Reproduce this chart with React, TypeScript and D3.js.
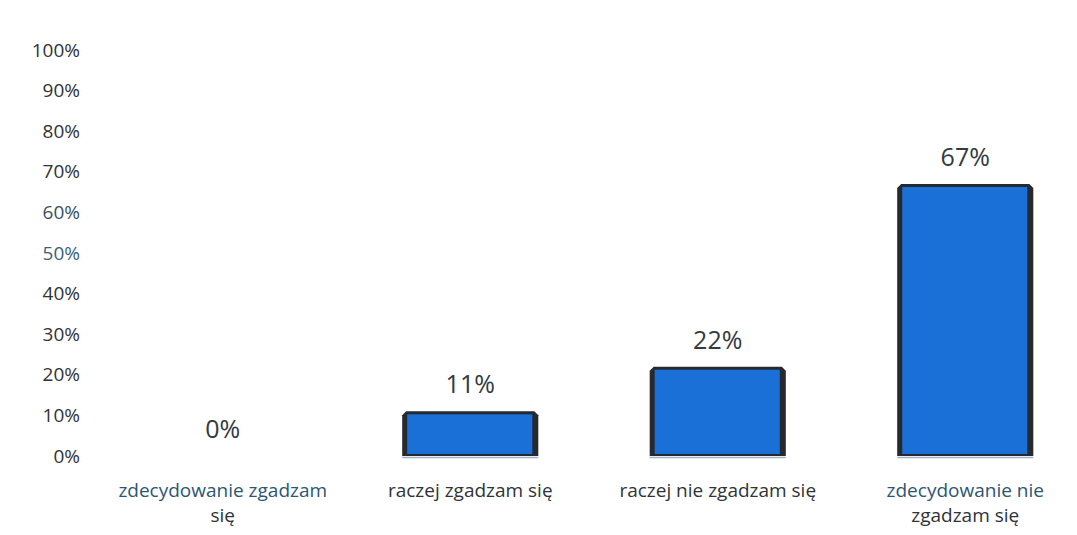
import React from "react";
import * as d3 from "d3";

const categories: string[][] = [
  ["zdecydowanie zgadzam", "się"],
  ["raczej zgadzam się"],
  ["raczej nie zgadzam się"],
  ["zdecydowanie nie", "zgadzam się"],
];
const values: number[] = [0, 11, 22, 67];
const yTicks: number[] = [0, 10, 20, 30, 40, 50, 60, 70, 80, 90, 100];
const catColors: string[] = ["#2d5672", "#2f3438", "#2f3438", "#2d5672"];
const tickColors: string[] = ["#333", "#333", "#333", "#333", "#333", "#3b5f7a", "#3b4f60", "#333", "#333", "#333", "#333"];

const W = 1077;
const H = 535;
const FONT = "'Open Sans', sans-serif";

export default function App() {
  const x = d3.scaleBand<number>().domain(d3.range(values.length)).range([99, 1089]).paddingInner(0.45).paddingOuter(0.225);
  const y = d3.scaleLinear().domain([0, 100]).range([456, 50]);
  const bw = x.bandwidth();
  return (
    <svg width={W} height={H} style={{ position: "absolute", left: 0, top: 0, background: "#fff" }} fontFamily={FONT}>
      <rect x={0} y={0} width={W} height={H} fill="#fff" />
      {yTicks.map((t, i) => (
        <text key={t} x={80} y={y(t)} dy="0.35em" textAnchor="end" fontSize={19} fill={tickColors[i]}>
          {t}%
        </text>
      ))}
      {values.map((v, i) => {
        const x0 = x(i)!;
        const y0 = y(v);
        const h = y(0) - y0;
        return (
          <g key={i}>
            {h > 0 && (
              <>
                <path
                  d={`M${x0},${y(0)} L${x0},${y0 + 4} L${x0 + 4},${y0} L${x0 + bw - 4},${y0} L${x0 + bw},${y0 + 4} L${x0 + bw},${y(0)} Z`}
                  fill="#262a2e"
                />
                <rect x={x0 + 5} y={y0 + 3} width={bw - 11} height={h - 5} fill="#1b70d8" />
                <line x1={x0} x2={x0 + bw} y1={y(0) + 1.5} y2={y(0) + 1.5} stroke="#9fb4c8" strokeWidth={1.5} />
              </>
            )}
            <text x={x0 + bw / 2} y={y0 - 18} textAnchor="middle" fontSize={25} fill="#333a40">
              {v}%
            </text>
          </g>
        );
      })}
      {categories.map((lines, i) => (
        <text key={i} x={x(i)! + bw / 2} y={497} textAnchor="middle" fontSize={19} fill={catColors[i]}>
          {lines.map((l, j) => (
            <tspan key={j} x={x(i)! + bw / 2} dy={j === 0 ? 0 : 25} fill={j === 0 ? catColors[i] : "#2f3438"}>
              {l}
            </tspan>
          ))}
        </text>
      ))}
    </svg>
  );
}
